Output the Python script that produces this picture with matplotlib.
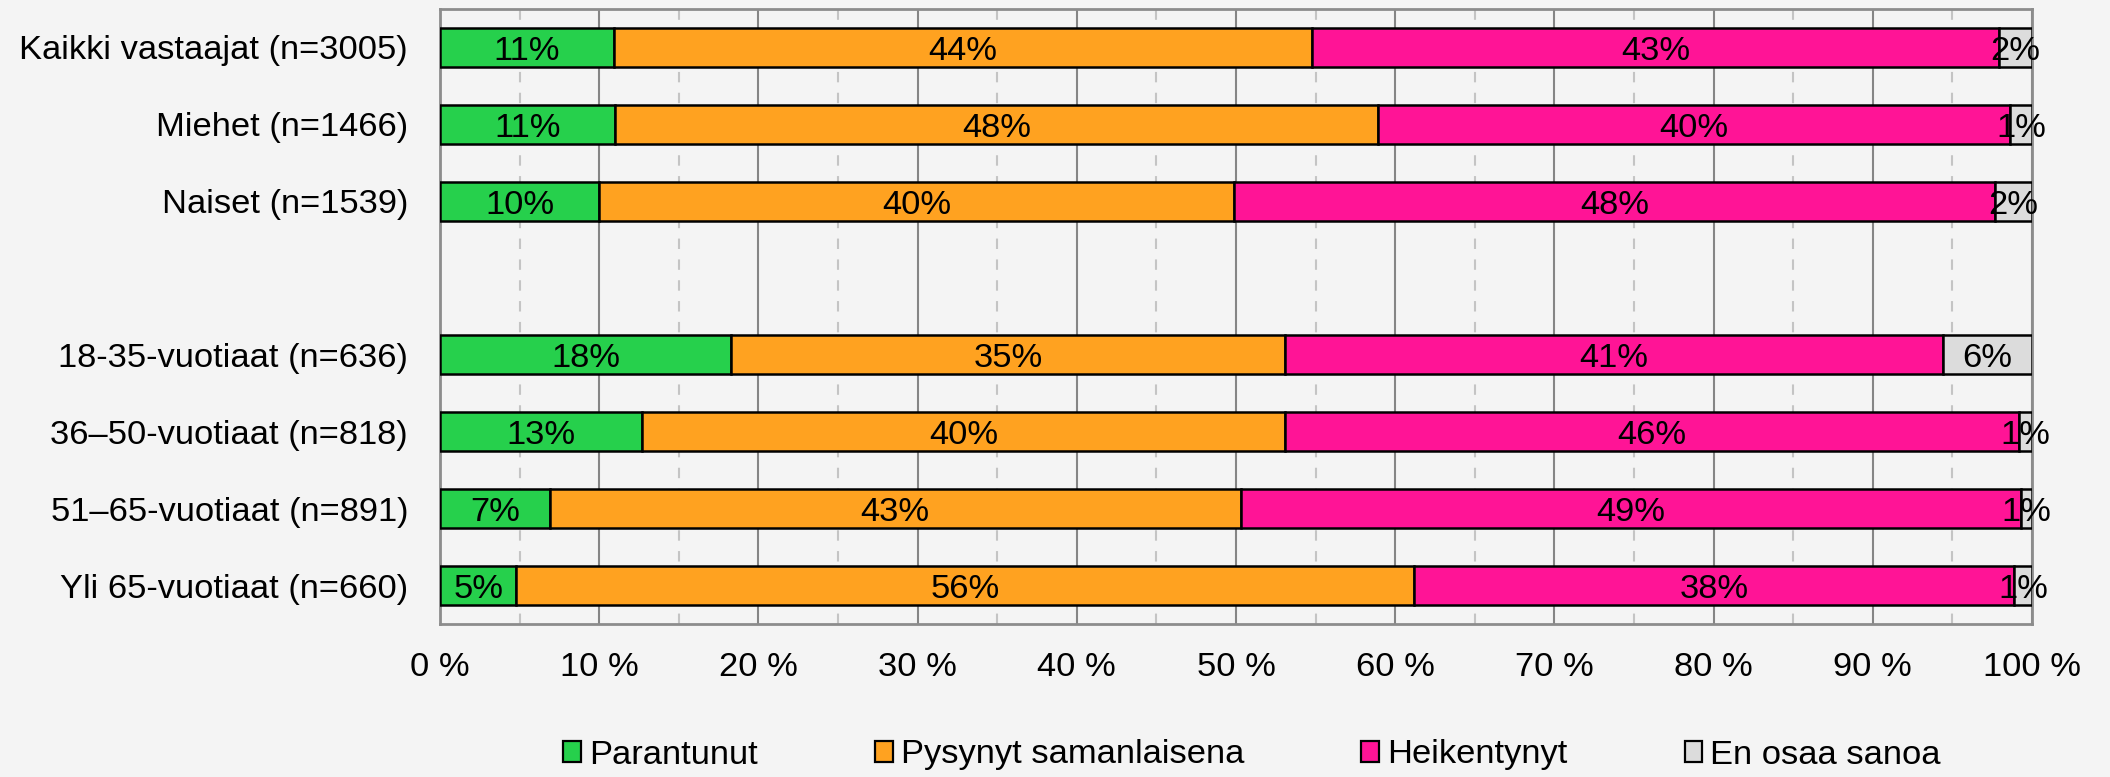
import matplotlib
matplotlib.use("Agg")
import matplotlib.pyplot as plt
import matplotlib.transforms as mtransforms
import numpy as np
from matplotlib.patches import Patch
from matplotlib.ticker import MultipleLocator

plt.rcParams['font.family'] = ['Liberation Sans', 'DejaVu Sans']

categories = ["Kaikki vastaajat (n=3005)", "Miehet (n=1466)", "Naiset (n=1539)",
              "18-35-vuotiaat (n=636)", "36–50-vuotiaat (n=818)",
              "51–65-vuotiaat (n=891)", "Yli 65-vuotiaat (n=660)"]
positions = [0, 1, 2, 4, 5, 6, 7]

series_names = ["Parantunut", "Pysynyt samanlaisena", "Heikentynyt", "En osaa sanoa"]
parantunut = [10.9, 11.0, 10.0, 18.3, 12.7, 6.9, 4.8]
pysynyt = [43.9, 47.9, 39.9, 34.8, 40.4, 43.4, 56.4]
heikentynyt = [43.1, 39.7, 47.8, 41.3, 46.1, 49.0, 37.7]
en_osaa = [2.1, 1.4, 2.3, 5.6, 0.8, 0.7, 1.1]

colors = ["#26d04c", "#ffa220", "#ff1496", "#dcdcdc"]
x_ticks = [0, 10, 20, 30, 40, 50, 60, 70, 80, 90, 100]
x_labels = ["0 %", "10 %", "20 %", "30 %", "40 %", "50 %", "60 %", "70 %", "80 %", "90 %", "100 %"]

bg = "#f4f4f4"
fs = 24.8

fig = plt.figure(figsize=(21.10, 7.77), dpi=100, facecolor=bg)
ax = fig.add_axes([440/2110, 1 - 624/777, (2032-440)/2110, (624-9)/777])
ax.set_facecolor(bg)

# shift baseline so digits are vertically centred on the bar
shift = mtransforms.ScaledTranslation(0, -0.36 * fs / 72, fig.dpi_scale_trans)
label_tr = ax.transData + shift

left = np.zeros(len(categories))
for name, vals, col in zip(series_names, [parantunut, pysynyt, heikentynyt, en_osaa], colors):
    vals = np.array(vals)
    ax.barh(positions, vals, left=left, height=0.506, color=col, edgecolor="black",
            linewidth=1.8, zorder=3)
    for p, l, v in zip(positions, left, vals):
        ax.text(l + v/2, p, f"{int(round(v))}%", ha="center", va="baseline",
                fontsize=fs, color="black", zorder=5, transform=label_tr)
    left += vals

ax.set_xlim(0, 100)
ax.set_ylim(7.5, -0.5)
ax.set_yticks(positions)
ax.set_yticklabels(categories, fontsize=fs)
ax.set_xticks(x_ticks)
ax.set_xticklabels(x_labels, fontsize=fs)
ax.xaxis.set_minor_locator(MultipleLocator(5))
ax.tick_params(axis="both", which="both", length=0)
ax.tick_params(axis="y", pad=23)
ax.tick_params(axis="x", pad=20)

ax.grid(axis="x", which="major", color="#858585", linewidth=1.5, zorder=0)
ax.grid(axis="x", which="minor", color="#c4c4c4", linewidth=1.5, linestyle=(0, (5, 5)), zorder=0)
ax.set_axisbelow(True)
for s in ax.spines.values():
    s.set_color("#8c8c8c")
    s.set_linewidth(2)

handles = [Patch(facecolor=c, edgecolor="black", linewidth=1.6) for c in colors]
fig.legend(handles, series_names, loc="center", bbox_to_anchor=(1252/2110, 1 - 755/777),
           ncol=4, frameon=False, fontsize=fs, handlelength=0.52, handleheight=0.58,
           handletextpad=0.23, columnspacing=3.4, borderpad=0, borderaxespad=0)

fig.savefig("out.png", dpi=100, facecolor=bg)
